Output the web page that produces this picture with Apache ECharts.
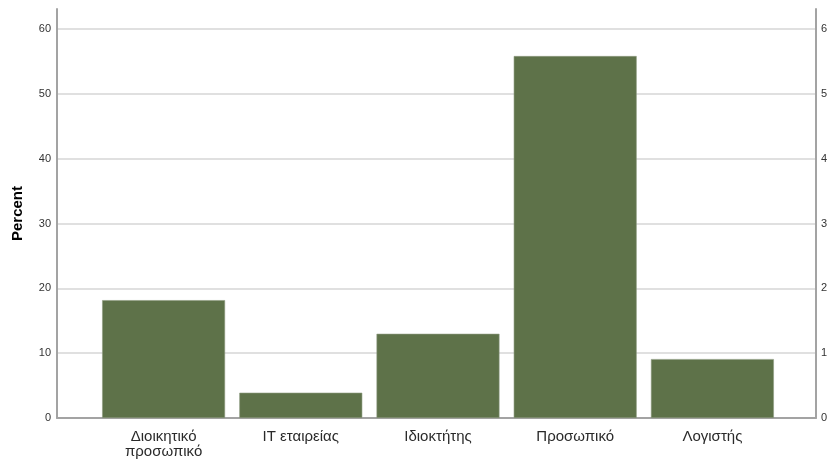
<!DOCTYPE html>
<html>
<head>
<meta charset="utf-8">
<script src="https://cdn.jsdelivr.net/npm/echarts@6/dist/echarts.min.js"></script>
<style>html,body{margin:0;padding:0;background:#fff}#c{width:830px;height:461px}</style>
</head>
<body>
<div id="c"></div>
<script>
const categories = ['Διοικητικό\nπροσωπικό', 'IT εταιρείας', 'Ιδιοκτήτης', 'Προσωπικό', 'Λογιστής'];
const percentValues = [18.18, 3.90, 12.99, 55.84, 9.09];
const leftTicks = [0, 10, 20, 30, 40, 50, 60];
const rightTicks = [0, 1, 2, 3, 4, 5, 6];
const yTitle = 'Percent';

const leftMax = 63.1;
const rightMax = leftMax / 10;
const font = 'Liberation Sans, Arial, sans-serif';
const axisLineStyle = { color: '#a3a3a3', width: 2 };

const chart = echarts.init(document.getElementById('c'), null, { renderer: 'canvas' });
chart.setOption({
  animation: false,
  backgroundColor: '#ffffff',
  grid: [
    { left: 57, right: 12, top: 9, bottom: 43, containLabel: false },
    { left: 95, right: 49, top: 9, bottom: 43, containLabel: false }
  ],
  xAxis: [
    { gridIndex: 0, type: 'category', data: categories,
      axisLine: { show: true, lineStyle: axisLineStyle },
      axisTick: { show: false }, axisLabel: { show: false }, splitLine: { show: false } },
    { gridIndex: 1, type: 'category', data: categories,
      axisLine: { show: false }, axisTick: { show: false },
      axisLabel: { show: true, margin: 11, color: '#2a2a2a', fontSize: 15, fontFamily: font, lineHeight: 15, interval: 0 } }
  ],
  yAxis: [
    { gridIndex: 0, type: 'value', position: 'left', min: 0, max: leftMax, interval: 10,
      name: yTitle, nameLocation: 'middle', nameGap: 32, nameRotate: 90,
      nameTextStyle: { fontWeight: 'bold', fontSize: 15, color: '#000', fontFamily: font },
      axisLine: { show: true, lineStyle: axisLineStyle }, axisTick: { show: false },
      axisLabel: { showMaxLabel: false, margin: 6, color: '#333', fontSize: 11, fontFamily: font,
        formatter: v => leftTicks.includes(v) ? String(v) : '' },
      splitLine: { show: true, showMaxLine: false, lineStyle: { color: '#d6d6d6', width: 1.5 } } },
    { gridIndex: 0, type: 'value', position: 'right', min: 0, max: rightMax, interval: 1,
      axisLine: { show: true, lineStyle: axisLineStyle }, axisTick: { show: false },
      axisLabel: { showMaxLabel: false, margin: 5, color: '#333', fontSize: 11, fontFamily: font,
        formatter: v => rightTicks.includes(v) ? String(v) : '' },
      splitLine: { show: false } },
    { gridIndex: 1, type: 'value', min: 0, max: leftMax, show: false, splitLine: { show: false } }
  ],
  series: [
    { type: 'bar', xAxisIndex: 1, yAxisIndex: 2, data: percentValues,
      barCategoryGap: '10.4%',
      itemStyle: { color: '#5e7249', borderColor: '#8d9a80', borderWidth: 0.6 } }
  ]
});
</script>
</body>
</html>
